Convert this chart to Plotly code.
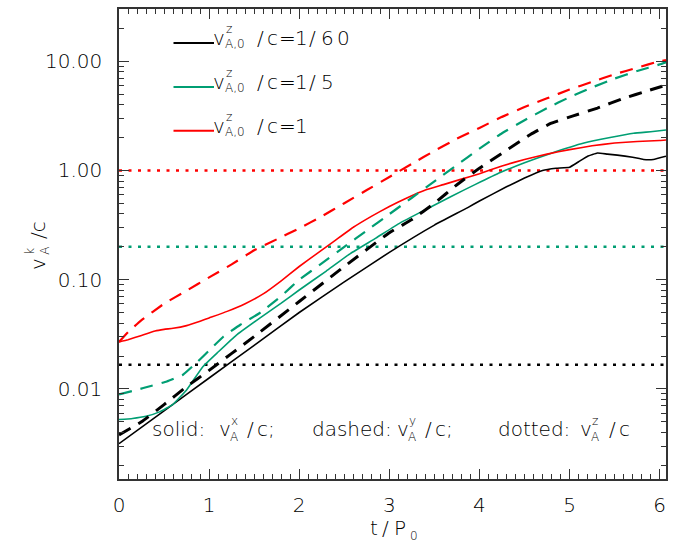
import math
import plotly.graph_objects as go

# ---------------- data ----------------
t_black_x = [0, 0.5, 1.0, 1.5, 2.0, 2.5, 3.0, 3.5, 3.87, 4.0, 4.3, 4.5, 4.7, 4.85, 5.0, 5.1, 5.2, 5.31, 5.42, 5.53, 5.7, 5.82, 5.93, 6.07]
v_black_x = [0.00316, 0.00631, 0.0126, 0.0251, 0.0501, 0.0955, 0.178, 0.316, 0.457, 0.525, 0.708, 0.851, 1.0, 1.047, 1.07, 1.20, 1.35, 1.445, 1.41, 1.38, 1.32, 1.26, 1.26, 1.35]

t_black_y = [0, 0.25, 0.5, 0.75, 1.0, 1.5, 2.0, 2.5, 3.0, 3.25, 3.5, 3.75, 4.0, 4.29, 4.57, 4.79, 5.04, 5.31, 5.6, 5.87, 6.07]
v_black_y = [0.0038, 0.0050, 0.0072, 0.0105, 0.0148, 0.0302, 0.0631, 0.132, 0.269, 0.355, 0.50, 0.74, 1.05, 1.51, 2.14, 2.69, 3.16, 3.72, 4.57, 5.37, 6.03]

t_green_x = [0, 0.15, 0.3, 0.45, 0.6, 0.75, 0.93, 1.1, 1.3, 1.57, 1.8, 2.0, 2.3, 2.57, 2.85, 3.12, 3.4, 3.68, 3.95, 4.23, 4.5, 4.79, 5.16, 5.45, 5.71, 5.9, 6.07]
v_green_x = [0.00525, 0.00537, 0.00562, 0.00617, 0.00724, 0.0098, 0.0160, 0.0218, 0.0310, 0.0450, 0.0610, 0.0805, 0.120, 0.174, 0.240, 0.331, 0.437, 0.575, 0.741, 0.955, 1.175, 1.43, 1.78, 2.0, 2.19, 2.26, 2.34]

t_green_y = [0, 0.27, 0.53, 0.71, 0.86, 1.01, 1.16, 1.35, 1.57, 1.8, 2.0, 2.25, 2.5, 2.75, 3.0, 3.25, 3.5, 3.75, 4.0, 4.25, 4.5, 4.75, 5.0, 5.25, 5.5, 5.75, 6.0, 6.07]
v_green_y = [0.0089, 0.0102, 0.0117, 0.0135, 0.0174, 0.0229, 0.0302, 0.0389, 0.0501, 0.0708, 0.100, 0.141, 0.200, 0.282, 0.398, 0.562, 0.794, 1.12, 1.585, 2.19, 2.88, 3.72, 4.68, 5.75, 6.92, 8.13, 9.33, 9.77]

t_red_x = [0, 0.1, 0.25, 0.4, 0.5, 0.6, 0.75, 0.9, 1.0, 1.2, 1.4, 1.6, 1.8, 2.0, 2.2, 2.4, 2.6, 2.8, 3.0, 3.2, 3.4, 3.6, 3.8, 4.0, 4.25, 4.5, 4.75, 5.0, 5.25, 5.5, 5.75, 6.0, 6.07]
v_red_x = [0.0269, 0.0282, 0.0309, 0.0339, 0.0351, 0.0359, 0.038, 0.0417, 0.0447, 0.0513, 0.0603, 0.0741, 0.0977, 0.132, 0.174, 0.229, 0.302, 0.380, 0.468, 0.562, 0.661, 0.741, 0.832, 0.933, 1.10, 1.26, 1.41, 1.55, 1.68, 1.78, 1.84, 1.88, 1.90]

t_red_y = [0, 0.1, 0.25, 0.5, 0.75, 1.0, 1.25, 1.5, 1.75, 2.0, 2.25, 2.5, 2.75, 3.0, 3.25, 3.5, 3.75, 4.0, 4.25, 4.5, 4.75, 5.0, 5.25, 5.5, 5.75, 6.0, 6.07]
v_red_y = [0.0269, 0.0331, 0.0427, 0.0603, 0.0794, 0.105, 0.138, 0.186, 0.234, 0.295, 0.380, 0.501, 0.661, 0.871, 1.15, 1.51, 1.95, 2.45, 3.09, 3.80, 4.57, 5.50, 6.46, 7.59, 8.71, 10.0, 10.2]

vz0_levels = [1 / 60, 1 / 5, 1.0]          # dotted v_A^z/c levels
level_labels = ["1/60", "1/5", "1"]
t_span = [0, 6.07]

x_range = [0, 6.07]
y_range = [0.0015, 30]
x_tickvals = [0, 1, 2, 3, 4, 5, 6]
y_tickvals = [0.01, 0.1, 1, 10]
y_ticktext = ["0.01", "0.10", "1.00", "10.00"]
y_minorvals = [m * d for d in (0.001, 0.01, 0.1, 1, 10) for m in range(2, 10)]

# ---------------- styling ----------------
BLACK, GREEN, RED = "#000000", "#009E73", "#FF0000"
colors = [BLACK, GREEN, RED]
FONT = "DejaVu Sans"
WGT = 300
TXT = "#000000"
AX = "#333333"
W, H = 689, 543
L, R, T, B = 119, 666, 7, 479

fig = go.Figure()

# dotted levels
for lvl, c in zip(vz0_levels, colors):
    fig.add_trace(go.Scatter(x=t_span, y=[lvl, lvl], mode="lines",
                             line=dict(color=c, width=2.5, dash="3px,6.5px"),
                             showlegend=False, hoverinfo="skip"))

solid = [(t_black_x, v_black_x, BLACK), (t_green_x, v_green_x, GREEN), (t_red_x, v_red_x, RED)]
dashed = [(t_black_y, v_black_y, BLACK, 3.0), (t_green_y, v_green_y, GREEN, 2.2), (t_red_y, v_red_y, RED, 2.2)]

for tx, vx, c in solid:
    fig.add_trace(go.Scatter(x=tx, y=vx, mode="lines",
                             line=dict(color=c, width=1.6, shape="spline", smoothing=0.3),
                             showlegend=False, hoverinfo="skip"))
for ty, vy, c, w in dashed:
    fig.add_trace(go.Scatter(x=ty, y=vy, mode="lines",
                             line=dict(color=c, width=w, dash="13px,9px", shape="spline", smoothing=0.3),
                             showlegend=False, hoverinfo="skip"))


def px2x(px):
    return (px - L) / (R - L)


def py2y(py):
    return (B - py) / (B - T)


annotations = []


def fnt(size):
    return dict(size=size, family=FONT, color=TXT, weight=WGT)


def txt(s, px, py_base, size):
    annotations.append(dict(text=s, x=px2x(px), y=py2y(py_base - 0.35 * size),
                            xref="paper", yref="paper", xanchor="left", yanchor="middle",
                            showarrow=False, borderpad=0, borderwidth=0, font=fnt(size)))


def rtxt(s, px_base, py_center, size):
    annotations.append(dict(text=s, x=px2x(px_base - 0.35 * size), y=py2y(py_center),
                            xref="paper", yref="paper", xanchor="center", yanchor="middle",
                            textangle=-90, showarrow=False, borderpad=0, borderwidth=0,
                            font=fnt(size)))


# character slots used to spread the legend numbers like the reference lettering
char_x = [295, 309, 321, 337]

shapes = []
# legend
for r, (c, lab) in enumerate(zip(colors, level_labels)):
    ly = 41.2 + 44.05 * r
    shapes.append(dict(type="line", xref="paper", yref="paper",
                       x0=px2x(173.5), x1=px2x(214), y0=py2y(ly), y1=py2y(ly),
                       line=dict(color=c, width=2)))
    base = ly + 1.8
    txt("v", 213, base, 20)
    txt("z", 226, ly - 10, 12)
    txt("A,0", 225, ly + 5, 12)
    txt("/", 257, base, 20)
    txt("c", 267, base, 20)
    txt("=", 279, base, 20)
    for ch, xc in zip(lab, char_x):
        txt(ch, xc, base, 20)

# bottom note
nb = 436
for word, xw, xv, sup, xs, xc, tail in [
    ("solid:", 152, 219, "x", 231, 247, "/c;"),
    ("dashed:", 312, 397, "y", 409, 425, "/c;"),
    ("dotted:", 498, 580, "z", 592, 609, "/c"),
]:
    txt(word, xw, nb, 20)
    txt("v", xv, nb, 20)
    txt(sup, xs, 425, 12)
    txt("A", xs - 1, 441, 12)
    txt(tail[0], xc, nb, 20)
    txt(tail[1:], xc + 10, nb, 20)

# x title
txt("t", 370, 535, 20)
txt("/", 382, 535, 20)
txt("P", 394, 535, 20)
txt("0", 410, 540, 12)

# y title (rotated)
rtxt("v", 45, 263, 20)
rtxt("k", 34, 250, 12)
rtxt("A", 49, 250, 12)
rtxt("/c", 45, 229, 20)

fig.update_layout(
    width=W, height=H,
    margin=dict(l=L, r=W - R, t=T, b=H - B, pad=0),
    paper_bgcolor="white", plot_bgcolor="white",
    showlegend=False,
    annotations=annotations, shapes=shapes,
    font=fnt(20),
)
fig.update_xaxes(range=x_range, tickvals=x_tickvals, ticks="inside", ticklen=10, tickwidth=1.3,
                 tickcolor=AX, showline=True, linecolor=AX, linewidth=1.6, mirror="allticks",
                 showgrid=False, zeroline=False, tickfont=fnt(20),
                 ticklabelstandoff=7,
                 minor=dict(dtick=0.1, ticks="inside", ticklen=5, tickwidth=1, tickcolor=AX, showgrid=False))
fig.update_yaxes(type="log", range=[math.log10(y_range[0]), math.log10(y_range[1])],
                 tickvals=y_tickvals, ticktext=y_ticktext, ticks="inside", ticklen=10, tickwidth=1.3,
                 tickcolor=AX, showline=True, linecolor=AX, linewidth=1.6, mirror="allticks",
                 showgrid=False, zeroline=False, tickfont=fnt(20),
                 ticklabelstandoff=11,
                 minor=dict(tickmode="array", tickvals=y_minorvals, ticks="inside", ticklen=5,
                            tickwidth=1, tickcolor=AX, showgrid=False))

fig.write_html("out.html")
